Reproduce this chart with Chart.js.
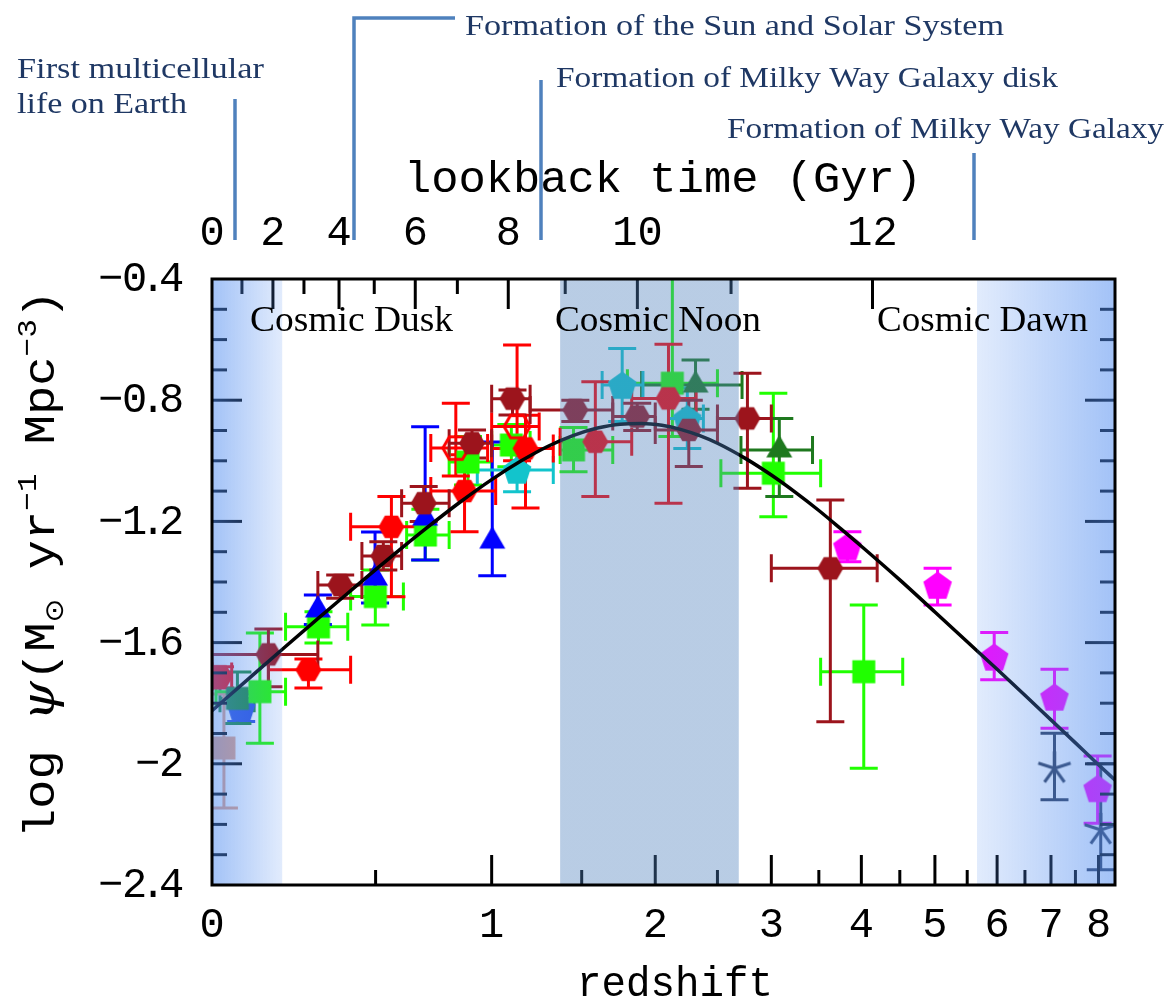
<!DOCTYPE html>
<html>
<head>
<meta charset="utf-8">
<script src="https://cdn.jsdelivr.net/npm/chart.js@4.4.1/dist/chart.umd.min.js"></script>
<style>
  html, body { margin: 0; padding: 0; background: #fff; }
  canvas { display: block; }
</style>
</head>
<body>
<canvas id="sfrd" width="1173" height="1001"></canvas>
<script>
// redshift axis labels + lookback-time ticks (as redshift of each Gyr mark)
const Z_LABELS = [0, 1, 2, 3, 4, 5, 6, 7, 8];
const Z_TICKS = [0.5, 1, 1.5, 2, 2.5, 3, 3.5, 4, 4.5, 5, 5.5, 6, 6.5, 7, 7.5, 8];
const LOOKBACK_GYR = [0, 1, 2, 3, 4, 5, 6, 7, 8, 9, 10, 11, 12];
const LOOKBACK_Z = [0, 0.077, 0.163, 0.256, 0.370, 0.495, 0.655, 0.837, 1.084, 1.40, 1.87, 2.62, 4.14];
const Y_LABELS = [-2.4, -2.0, -1.6, -1.2, -0.8, -0.4];

// best-fit curve
const CURVE_Z = [0, 0.1, 0.2, 0.3, 0.4, 0.5, 0.6, 0.7, 0.85, 1.0, 1.15, 1.3, 1.45, 1.6, 1.75, 1.9, 2.05, 2.2, 2.35, 2.5, 2.75, 3.0, 3.25, 3.5, 3.75, 4.0, 4.5, 5.0, 5.5, 6.0, 6.5, 7.0, 7.5, 8.0, 8.4];
const CURVE_LOGSFRD = [-1.825, -1.714, -1.613, -1.521, -1.437, -1.359, -1.288, -1.223, -1.136, -1.062, -1.001, -0.952, -0.916, -0.892, -0.879, -0.877, -0.883, -0.897, -0.917, -0.942, -0.992, -1.047, -1.105, -1.164, -1.224, -1.282, -1.393, -1.499, -1.597, -1.688, -1.774, -1.855, -1.931, -2.003, -2.057];

// rows: [z, log sfrd, z low, z high, log high, log low]
const IR_RED = [
  [0.02, -1.712, 0.0, 0.05, -1.68, -1.75],
  [0.27, -1.690, 0.15, 0.41, -1.654, -1.750],
  [0.56, -1.218, 0.41, 0.70, -1.118, -1.449],
  [0.87, -1.100, 0.72, 1.02, -0.98, -1.234],
  [1.175, -0.959, 1.0, 1.33, -0.85, -1.156],
  [1.586, -0.937, 1.37, 1.83, -0.739, -1.118],
  [2.10, -0.794, 1.83, 2.32, -0.615, -1.140]
];
const IR_DARKRED = [
  [0.15, -1.639, 0.0, 0.30, -1.555, -1.746],
  [0.374, -1.410, 0.30, 0.45, -1.377, -1.454],
  [0.529, -1.314, 0.45, 0.60, -1.267, -1.360],
  [0.69, -1.140, 0.60, 0.80, -1.085, -1.20],
  [0.905, -0.942, 0.80, 1.00, -0.898, -0.991],
  [1.106, -0.795, 1.00, 1.20, -0.766, -0.849],
  [1.461, -0.832, 1.20, 1.70, -0.80, -0.87],
  [1.869, -0.854, 1.70, 2.00, -0.81, -0.90],
  [2.26, -0.898, 2.00, 2.50, -0.80, -1.019],
  [2.77, -0.860, 2.50, 3.00, -0.711, -1.091],
  [3.63, -1.355, 3.00, 4.20, -1.129, -1.861]
];
const IR_OPEN = [
  [0.83, -0.958, 0.72, 0.98, -0.81, -1.05],
  [1.13, -0.887, 1.00, 1.25, -0.618, -1.00]
];
const UV_GREEN = [
  [0.126, -1.762, 0.01, 0.20, -1.568, -1.932],
  [0.302, -1.548, 0.20, 0.40, -1.498, -1.601],
  [0.499, -1.448, 0.41, 0.607, -1.36, -1.542],
  [0.697, -1.245, 0.62, 0.80, -1.16, -1.327],
  [0.886, -1.004, 0.80, 1.00, -0.92, -1.08],
  [1.10, -0.948, 1.00, 1.20, -0.88, -1.02],
  [1.45, -0.964, 1.37, 1.70, -0.89, -1.036],
  [2.13, -0.744, 1.80, 2.50, -0.30, -0.92],
  [3.02, -1.041, 2.53, 3.52, -0.777, -1.185],
  [4.03, -1.696, 3.52, 4.54, -1.476, -2.015]
];
const UV_BLUE = [
  [0.30, -1.492, 0.30, 0.30, -1.443, -1.54],
  [0.498, -1.387, 0.498, 0.498, -1.235, -1.469],
  [0.696, -1.189, 0.696, 0.696, -0.888, -1.327],
  [1.003, -1.265, 1.003, 1.003, -0.938, -1.379]
];
const UV_CYAN = [
  [1.13, -1.030, 0.93, 1.33, -0.948, -1.102],
  [1.764, -0.750, 1.63, 1.91, -0.629, -0.87],
  [2.248, -0.860, 2.10, 2.38, -0.76, -0.959]
];
const UV_DKGREEN = [
  [2.315, -0.750, 1.90, 2.72, -0.667, -0.83],
  [3.08, -0.964, 2.71, 3.43, -0.860, -1.118]
];
const UV_MAGENTA = [
  [3.83, -1.283, 3.83, 3.83, -1.234, -1.333],
  [5.04, -1.410, 5.04, 5.04, -1.355, -1.476],
  [5.95, -1.647, 5.95, 5.95, -1.567, -1.723],
  [7.07, -1.779, 7.07, 7.07, -1.688, -1.883],
  [7.98, -2.081, 7.98, 7.98, -1.974, -2.196]
];
const UV_SLATE = [
  [7.07, -2.015, 7.07, 7.07, -1.899, -2.119],
  [8.05, -2.218, 8.05, 8.05, -2.00, -2.35]
];
const IR_ORANGE = [[0.03, -1.948, 0.03, 0.03, -1.77, -2.146]];
const UV_TEAL = [[0.065, -1.784, 0.02, 0.11, -1.697, -1.867]];
const UV_LOCAL = [[0.075, -1.816, 0.075, 0.075, -1.77, -1.86]];

const lz = z => Math.log10(1 + z);
const UMAX = 0.972;
const CAP = 14;

const SERIES = [
  { rows: IR_DARKRED, color: '#9c141c', shape: 'hex', order: 1 },
  { rows: IR_RED, color: '#ff0000', shape: 'hex', order: 2 },
  { rows: IR_OPEN, color: '#ff0000', shape: 'hex', open: true, order: 3 },
  { rows: UV_CYAN, color: '#12c4cc', shape: 'pent', order: 4 },
  { rows: UV_DKGREEN, color: '#1e781e', shape: 'tri', order: 5 },
  { rows: UV_BLUE, color: '#0000ff', shape: 'tri', order: 6 },
  { rows: UV_GREEN, color: '#20ff00', shape: 'square', order: 7 },
  { rows: UV_MAGENTA, color: '#ff00ff', shape: 'pent', order: 8 },
  { rows: UV_SLATE, color: '#2e3a55', shape: 'star', order: 9 },
  { rows: IR_ORANGE, color: '#e8a080', shape: 'square', order: 10 },
  { rows: UV_TEAL, color: '#1a8a3a', shape: 'square', order: 11 },
  { rows: UV_LOCAL, color: '#2a50e0', shape: 'pent', order: 12 }
];

function marker(shape, color, open) {
  const c = document.createElement('canvas');
  c.width = c.height = 40;
  const g = c.getContext('2d');
  g.translate(20, 20);
  g.fillStyle = color;
  g.strokeStyle = color;
  g.lineWidth = 3;
  g.beginPath();
  if (shape === 'hex') {
    for (let k = 0; k < 6; k++) { const a = k * Math.PI / 3; g.lineTo(13 * Math.cos(a), 13 * Math.sin(a)); }
    g.closePath();
  } else if (shape === 'pent') {
    for (let k = 0; k < 5; k++) { const a = -Math.PI / 2 + k * 2 * Math.PI / 5; g.lineTo(15 * Math.cos(a), 15 * Math.sin(a) + 1.5); }
    g.closePath();
  } else if (shape === 'tri') {
    for (let k = 0; k < 3; k++) { const a = -Math.PI / 2 + k * 2 * Math.PI / 3; g.lineTo(15 * Math.cos(a), 15 * Math.sin(a)); }
    g.closePath();
  } else if (shape === 'square') {
    g.rect(-11.5, -11.5, 23, 23);
  } else if (shape === 'star') {
    for (let k = 0; k < 5; k++) { const a = -Math.PI / 2 + k * 2 * Math.PI / 5; g.moveTo(0, 0); g.lineTo(17 * Math.cos(a), 17 * Math.sin(a)); }
    g.stroke();
    return c;
  }
  if (open) g.stroke(); else g.fill();
  return c;
}

const datasets = SERIES.map(s => ({
  data: s.rows.map(r => ({ x: lz(r[0]), y: r[1] })),
  pointStyle: marker(s.shape, s.color, s.open),
  pointRadius: 12,
  order: s.order
}));
datasets.push({
  type: 'line',
  data: CURVE_Z.map((z, i) => ({ x: lz(z), y: CURVE_LOGSFRD[i] })),
  borderColor: '#000',
  borderWidth: 3.5,
  pointRadius: 0,
  cubicInterpolationMode: 'monotone',
  order: 0
});

// error bars go under the markers
const errorBars = {
  id: 'errorBars',
  beforeDatasetsDraw(chart) {
    const { ctx, chartArea: a, scales: { x, y } } = chart;
    ctx.save();
    ctx.beginPath();
    ctx.rect(a.left, a.top, a.right - a.left, a.bottom - a.top);
    ctx.clip();
    ctx.lineWidth = 3;
    SERIES.slice().reverse().forEach(s => {
      ctx.strokeStyle = s.color;
      s.rows.forEach(r => {
        const px = x.getPixelForValue(lz(r[0])), py = y.getPixelForValue(r[1]);
        const x0 = x.getPixelForValue(lz(r[2])), x1 = x.getPixelForValue(lz(r[3]));
        const yHi = y.getPixelForValue(r[4]), yLo = y.getPixelForValue(r[5]);
        ctx.beginPath();
        ctx.moveTo(px, yHi); ctx.lineTo(px, yLo);
        ctx.moveTo(px - CAP, yHi); ctx.lineTo(px + CAP, yHi);
        ctx.moveTo(px - CAP, yLo); ctx.lineTo(px + CAP, yLo);
        if (x1 - x0 > 1) {
          ctx.moveTo(x0, py); ctx.lineTo(x1, py);
          ctx.moveTo(x0, py - CAP); ctx.lineTo(x0, py + CAP);
          ctx.moveTo(x1, py - CAP); ctx.lineTo(x1, py + CAP);
        }
        ctx.stroke();
      });
    });
    ctx.restore();
  }
};

function fitText(ctx, txt, x, y, w, font, color) {
  ctx.save();
  ctx.font = font;
  ctx.fillStyle = color;
  ctx.textAlign = 'left';
  ctx.textBaseline = 'alphabetic';
  const m = ctx.measureText(txt).width;
  ctx.translate(x, y);
  ctx.scale(w / m, 1);
  ctx.fillText(txt, 0, 0);
  ctx.restore();
}

// ticks, shaded epochs, frame and all the free text
const decor = {
  id: 'decor',
  afterDraw(chart) {
    const { ctx, chartArea: a, scales: { x, x2, y } } = chart;
    ctx.save();
    ctx.strokeStyle = '#000';
    ctx.lineWidth = 3;
    const line = (x0, y0, x1, y1) => { ctx.beginPath(); ctx.moveTo(x0, y0); ctx.lineTo(x1, y1); ctx.stroke(); };

    Z_TICKS.forEach(z => {
      const px = x.getPixelForValue(lz(z));
      line(px, a.bottom, px, a.bottom - (Number.isInteger(z) ? 30 : 15));
    });
    LOOKBACK_Z.forEach((z, i) => {
      if (i === 0) return;
      const px = x2.getPixelForValue(lz(z));
      line(px, a.top, px, a.top + (i % 2 === 0 ? 30 : 15));
    });
    for (let k = -23; k <= -5; k++) {
      const py = y.getPixelForValue(k / 10);
      const len = k % 4 === 0 ? 30 : 15;
      line(a.left, py, a.left + len, py);
      line(a.right, py, a.right - len, py);
    }

    // y tick labels: narrow minus and point, wide digits
    ctx.fillStyle = '#000';
    ctx.font = '42px "Liberation Mono"';
    ctx.textAlign = 'center';
    ctx.textBaseline = 'middle';
    Y_LABELS.forEach(v => {
      const txt = '−' + Math.abs(v).toFixed(1).replace(/\.0$/, '');
      const py = y.getPixelForValue(v) + 1;
      let rx = 184;
      for (let i = txt.length - 1; i >= 0; i--) {
        const ch = txt[i], w = ch === '.' ? 12 : ch === '−' ? 23 : 25;
        ctx.fillText(ch, rx - w / 2, py);
        rx -= w;
      }
    });

    // cosmic dusk / noon / dawn
    const band = (z0, z1, a0, a1, rgb) => {
      const x0 = x.getPixelForValue(lz(z0)), x1 = Math.min(x.getPixelForValue(lz(z1)), a.right);
      const g = ctx.createLinearGradient(x0, 0, x1, 0);
      g.addColorStop(0, 'rgba(' + rgb + ',' + a0 + ')');
      g.addColorStop(1, 'rgba(' + rgb + ',' + a1 + ')');
      ctx.fillStyle = g;
      ctx.fillRect(x0, a.top, x1 - x0, a.bottom - a.top);
    };
    band(0, 0.19, 0.53, 0.17, '80,140,240');
    band(1.37, 2.69, 0.4, 0.4, '79,129,189');
    band(5.66, 9, 0.17, 0.53, '80,140,240');

    ctx.strokeStyle = '#000';
    ctx.lineWidth = 3;
    ctx.strokeRect(a.left, a.top, a.right - a.left, a.bottom - a.top);

    fitText(ctx, 'Cosmic Dusk', 250, 331, 203, '36px "Liberation Serif"', '#000');
    fitText(ctx, 'Cosmic Noon', 555, 331, 206, '36px "Liberation Serif"', '#000');
    fitText(ctx, 'Cosmic Dawn', 877, 331, 211, '36px "Liberation Serif"', '#000');

    // milestones above the plot
    ctx.strokeStyle = '#4f81bd';
    ctx.lineWidth = 3.5;
    line(235, 99, 235, 240);
    ctx.beginPath(); ctx.moveTo(354, 240); ctx.lineTo(354, 18); ctx.lineTo(455, 18); ctx.stroke();
    line(541, 80, 541, 240);
    line(974, 153, 974, 240);
    const navy = '#1f3864', serif = '30px "Liberation Serif"';
    fitText(ctx, 'First multicellular', 17, 78, 247, serif, navy);
    fitText(ctx, 'life on Earth', 17, 113, 170, serif, navy);
    fitText(ctx, 'Formation of the Sun and Solar System', 465, 35, 539, serif, navy);
    fitText(ctx, 'Formation of Milky Way Galaxy disk', 556, 87, 502, serif, navy);
    fitText(ctx, 'Formation of Milky Way Galaxy', 727, 138, 437, serif, navy);

    fitText(ctx, 'lookback time (Gyr)', 404, 192, 518, '45px "Liberation Mono"', '#000');
    fitText(ctx, 'redshift', 577, 996, 196, '42px "Liberation Mono"', '#000');

    // y title with sub/superscripts, rotated
    const mono = '44px "Liberation Mono"', small = '28px "Liberation Mono"';
    const parts = [
      ['log ', mono, 0], ['ψ', 'italic 46px "DejaVu Serif"', 0], ['(M', mono, 0],
      ['⊙', '26px "DejaVu Sans"', 9], [' yr', mono, 0], ['−1', small, -18],
      [' Mpc', mono, 0], ['−3', small, -18], [')', mono, 0]
    ];
    let total = 0;
    parts.forEach(p => { ctx.font = p[1]; total += ctx.measureText(p[0]).width; });
    ctx.translate(54, 838);
    ctx.rotate(-Math.PI / 2);
    ctx.scale(548 / total, 1);
    ctx.fillStyle = '#000';
    ctx.textAlign = 'left';
    ctx.textBaseline = 'alphabetic';
    let cx = 0;
    parts.forEach(p => { ctx.font = p[1]; ctx.fillText(p[0], cx, p[2]); cx += ctx.measureText(p[0]).width; });
    ctx.restore();
  }
};

const tickFont = { family: 'Liberation Mono', size: 42 };

new Chart(document.getElementById('sfrd'), {
  type: 'scatter',
  data: { datasets },
  options: {
    responsive: false,
    animation: false,
    devicePixelRatio: 1,
    events: [],
    layout: { padding: { left: 0, right: 58, top: 0, bottom: 0 } },
    plugins: { legend: { display: false }, tooltip: { enabled: false } },
    scales: {
      x: {
        type: 'linear', position: 'bottom', min: 0, max: UMAX,
        grid: { display: false, drawTicks: false }, border: { display: false },
        afterBuildTicks: s => { s.ticks = Z_LABELS.map(z => ({ value: lz(z) })); },
        afterFit: s => { s.height = 116; },
        ticks: { autoSkip: false, maxRotation: 0, padding: 16, color: '#000', font: tickFont,
                 callback: (v, i) => String(Z_LABELS[i]) }
      },
      x2: {
        type: 'linear', position: 'top', min: 0, max: UMAX,
        grid: { display: false, drawTicks: false }, border: { display: false },
        afterBuildTicks: s => { s.ticks = LOOKBACK_Z.map(z => ({ value: lz(z) })); },
        afterFit: s => { s.height = 279; },
        ticks: { autoSkip: false, maxRotation: 0, padding: 20, color: '#000', font: tickFont,
                 callback: (v, i) => (i % 2 === 0 ? String(LOOKBACK_GYR[i]) : '') }
      },
      y: {
        type: 'linear', position: 'left', min: -2.4, max: -0.4,
        grid: { display: false, drawTicks: false }, border: { display: false },
        afterBuildTicks: s => { s.ticks = Y_LABELS.map(v => ({ value: v })); },
        afterFit: s => { s.width = 212; },
        ticks: { display: false }
      }
    }
  },
  plugins: [errorBars, decor]
});
</script>
</body>
</html>
